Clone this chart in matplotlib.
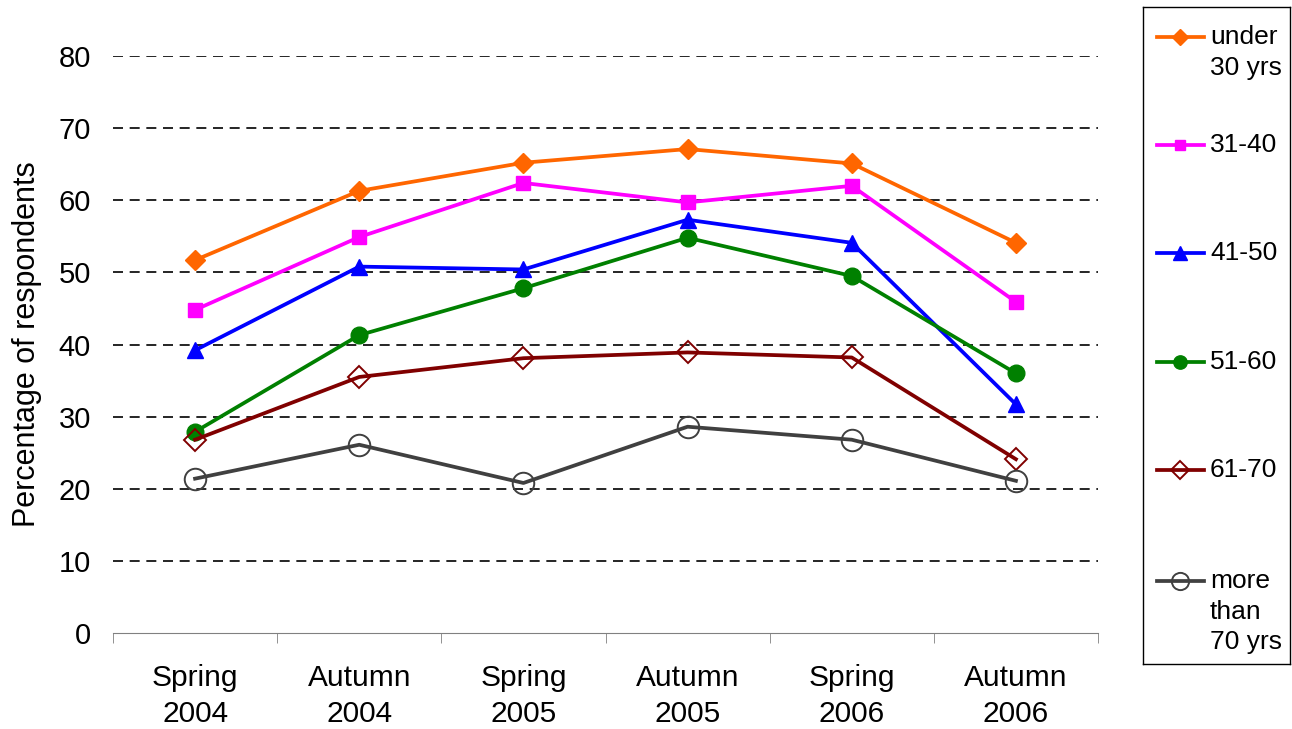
import matplotlib
matplotlib.use("Agg")
import matplotlib.pyplot as plt
import numpy as np

plt.rcParams['font.family'] = ['Liberation Sans', 'DejaVu Sans']

# data ------------------------
periods = ["Spring\n2004", "Autumn\n2004", "Spring\n2005", "Autumn\n2005", "Spring\n2006", "Autumn\n2006"]
labels = ["under\n30 yrs", "31-40", "41-50", "51-60", "61-70", "more\nthan\n70 yrs"]

under30 = [51.7, 61.3, 65.2, 67.1, 65.1, 54.1]
age31_40 = [44.8, 54.9, 62.4, 59.7, 62.0, 45.9]
age41_50 = [39.2, 50.8, 50.4, 57.3, 54.1, 31.7]
age51_60 = [27.9, 41.3, 47.8, 54.8, 49.5, 36.0]
age61_70 = [26.8, 35.5, 38.1, 38.9, 38.2, 24.1]
over70 = [21.4, 26.1, 20.8, 28.6, 26.8, 21.1]

series = [under30, age31_40, age41_50, age51_60, age61_70, over70]

# styles
styles = [
    dict(color="#FF6600", marker="D", markersize=10.5, mfc="#FF6600", mec="#FF6600"),
    dict(color="#FF00FF", marker="s", markersize=9.5, mfc="#FF00FF", mec="#FF00FF"),
    dict(color="#0000FF", marker="^", markersize=12, mfc="#0000FF", mec="#0000FF"),
    dict(color="#008000", marker="o", markersize=12, mfc="#008000", mec="#008000"),
    dict(color="#800000", marker="D", markersize=11, mfc="none", mec="#800000", mew=1.4),
    dict(color="#404040", marker="o", markersize=15.5, mfc="none", mec="#404040", mew=1.4),
]

fig = plt.figure(figsize=(12.92, 7.29), dpi=100)
ax = fig.add_axes([113/1292, 1 - 633/729, (1098-113)/1292, (633-56)/729])

x = np.arange(len(periods)) + 0.5

for vals, st in zip(series, styles):
    ax.plot(x, vals, linewidth=2.7, zorder=3, **st)

ax.set_xlim(0, 6)
ax.set_ylim(0, 80)
ax.set_yticks(range(0, 81, 10))
for v in range(10, 81, 10):
    ax.axhline(v, color="black", linestyle=(0, (6, 4)), linewidth=1.2, zorder=1)

ax.set_xticks(x)
ax.set_xticklabels(periods, fontsize=21.5, linespacing=1.38)
ax.set_xticks(np.arange(0, 7), minor=True)
ax.tick_params(axis="x", which="major", length=0, pad=22)
ax.tick_params(axis="x", which="minor", length=7, color="#808080")
ax.tick_params(axis="y", length=0, labelsize=21, pad=16)

for s in ["top", "right", "left"]:
    ax.spines[s].set_visible(False)
ax.spines["bottom"].set_color("#808080")

ax.set_ylabel("Percentage of respondents", fontsize=22, labelpad=12)

# legend box, drawn by hand so handles line up with the first text line
lax = fig.add_axes([1143/1292, 1 - 664/729, 147/1292, 657/729])
lax.set_xlim(1143, 1290)
lax.set_ylim(664, 7)
lax.set_xticks([])
lax.set_yticks([])
for s in lax.spines.values():
    s.set_linewidth(1.0)
    s.set_color("black")

ys = [37, 145, 253, 362, 470, 581]
for yy, lab, st in zip(ys, labels, styles):
    st2 = dict(st)
    st2["markersize"] = st["markersize"] * 0.8
    lax.plot([1157, 1204], [yy, yy], linewidth=2.7, color=st["color"])
    lax.plot([1180], [yy], linewidth=0, **st2)
    lax.text(1210, yy - 12, lab, fontsize=19, va="top", ha="left", linespacing=1.35)

fig.savefig("out.png", dpi=100)
